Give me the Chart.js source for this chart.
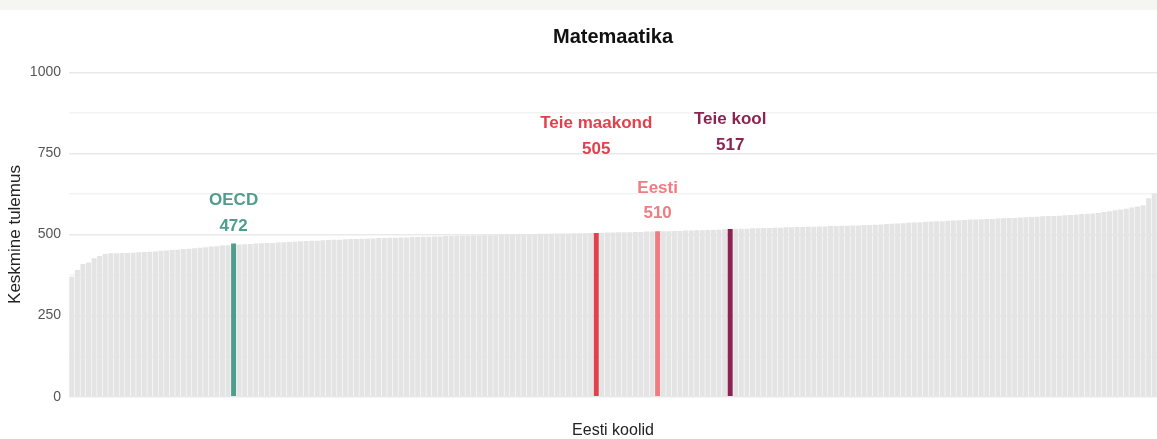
<!DOCTYPE html>
<html><head><meta charset="utf-8">
<script src="https://cdn.jsdelivr.net/npm/chart.js@4/dist/chart.umd.min.js"></script>
<style>
html,body{margin:0;padding:0;background:#fff;overflow:hidden;}
#strip{position:absolute;left:0;top:0;width:1157px;height:10px;background:#f5f6f1;}
#wrap{position:absolute;left:0;top:0;width:1157px;height:439px;}
</style></head><body>
<div id="wrap"><canvas id="c" width="1157" height="439"></canvas></div>
<div id="strip"></div>
<script>
const chartTitle = 'Matemaatika';
const yTitle = 'Keskmine tulemus';
const xTitle = 'Eesti koolid';
const yTickValues = [0, 250, 500, 750, 1000];
const yMinorValues = [125, 375, 625, 875];

const scores = [
370,391,409,414,427,434,440,442,442,443,
443,444,445,446,447,448,450,451,452,453,
455,456,458,459,461,463,464,466,467,472,
469,470,471,472,473,474,474,475,476,477,
478,479,480,481,481,482,483,484,484,485,
486,486,487,487,488,489,489,490,490,491,
491,492,492,493,493,494,494,495,495,496,
496,496,497,497,498,498,498,499,499,500,
500,500,501,501,502,502,502,503,503,503,
504,504,504,505,505,505,506,506,507,507,
507,508,508,509,509,510,510,510,511,511,
512,512,513,513,514,514,515,516,517,517,
518,518,519,519,520,520,521,521,522,522,
523,523,524,524,525,525,526,526,527,527,
528,528,529,529,530,531,532,533,534,535,
536,537,538,539,540,541,541,542,543,544,
545,546,546,547,548,548,549,550,551,551,
552,553,554,555,556,557,557,558,559,560,
561,563,564,565,566,569,572,575,577,579,
583,586,590,612,626
];
const schools = scores.map((_, i) => 'Kool ' + (i + 1));

const highlightNames  = ['OECD', 'Teie maakond', 'Eesti', 'Teie kool'];
const highlightIndex  = [29, 94, 105, 118];
const highlightValues = [472, 505, 510, 517];
const highlightColors = ['#4f9d8e', '#e2404d', '#f27b82', '#8c2352'];
const highlightLift   = [19, 85, 19, 85];

const barColors = scores.map((v, i) => {
  const k = highlightIndex.indexOf(i);
  return k >= 0 ? highlightColors[k] : '#e4e4e4';
});

const FONT = "'Liberation Sans', Arial, Helvetica, sans-serif";

const textPlugin = {
  id: 'texts',
  afterDraw(chart) {
    const ctx = chart.ctx, ca = chart.chartArea;
    const xs = chart.scales.x, ys = chart.scales.y;
    const cx = (ca.left + ca.right) / 2;
    ctx.save();
    ctx.textAlign = 'center';
    ctx.textBaseline = 'middle';
    ctx.fillStyle = '#111';
    ctx.font = 'bold 20px ' + FONT;
    ctx.fillText(chartTitle, cx, 37);
    ctx.font = '16px ' + FONT;
    ctx.fillStyle = '#222';
    ctx.fillText(xTitle, cx, 431);
    ctx.font = '17px ' + FONT;
    ctx.save();
    ctx.translate(15, (ca.top + ca.bottom) / 2);
    ctx.rotate(-Math.PI / 2);
    ctx.fillText(yTitle, 0, 0);
    ctx.restore();
    ctx.font = 'bold 17px ' + FONT;
    ctx.textBaseline = 'alphabetic';
    highlightNames.forEach((name, k) => {
      const x = xs.getPixelForValue(highlightIndex[k]);
      const top = ys.getPixelForValue(highlightValues[k]);
      const numC = top - highlightLift[k];
      ctx.fillStyle = highlightColors[k];
      ctx.fillText(String(highlightValues[k]), x, numC + 6);
      ctx.fillText(name, x, numC - 25.5 + 6);
    });
    ctx.restore();
  }
};

new Chart(document.getElementById('c'), {
  type: 'bar',
  data: {
    labels: schools,
    datasets: [{
      data: scores,
      backgroundColor: barColors,
      borderWidth: 0,
      barPercentage: 0.9,
      categoryPercentage: 1.0
    }]
  },
  options: {
    responsive: false,
    devicePixelRatio: 1,
    animation: false,
    layout: { padding: { top: 56, right: 0, left: 0, bottom: 0 } },
    plugins: { legend: { display: false }, tooltip: { enabled: false }, title: { display: false } },
    scales: {
      x: {
        type: 'category',
        ticks: { display: false },
        grid: { display: false },
        border: { display: false },
        afterFit(s) { s.height = 26; }
      },
      y: {
        min: -50,
        max: 1050,
        afterBuildTicks(s) {
          s.ticks = yTickValues.concat(yMinorValues).sort((a, b) => a - b).map(v => ({ value: v }));
        },
        ticks: {
          padding: 8,
          color: '#555',
          font: { family: FONT, size: 14 },
          callback: v => (yTickValues.includes(v) ? String(v) : '')
        },
        grid: {
          drawTicks: false,
          color: c => (c.tick && yTickValues.includes(c.tick.value) ? '#e9e9e9' : '#f3f3f3'),
          lineWidth: 1.4
        },
        border: { display: false },
        afterFit(s) { s.width = 69; }
      }
    }
  },
  plugins: [textPlugin]
});
</script>
</body></html>
